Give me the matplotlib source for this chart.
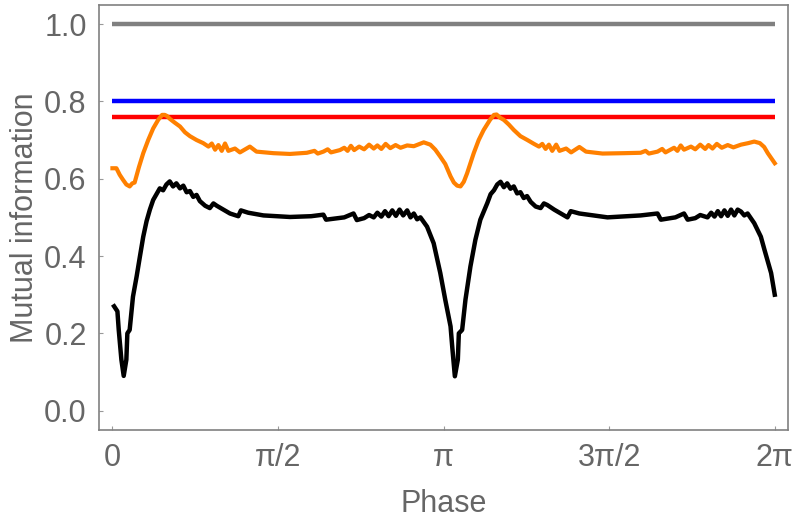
import numpy as np
import matplotlib
matplotlib.use("Agg")
import matplotlib.pyplot as plt

# 相位 (以 π 为单位) 与互信息
black_x = [0.005, 0.015, 0.019, 0.027, 0.034, 0.042, 0.045, 0.052, 0.062, 0.073, 0.083, 0.093, 0.103, 0.113,
           0.123, 0.133, 0.143, 0.153, 0.163, 0.173, 0.183, 0.193, 0.204, 0.214, 0.224, 0.234, 0.244, 0.254,
           0.264, 0.280, 0.294, 0.305, 0.315, 0.335, 0.355, 0.380, 0.388, 0.410, 0.456, 0.536, 0.600, 0.637,
           0.645, 0.700, 0.728, 0.738, 0.760, 0.775, 0.789, 0.800, 0.812, 0.823, 0.834, 0.845, 0.856, 0.867,
           0.878, 0.890, 0.900, 0.910, 0.920, 0.930, 0.950, 0.970, 0.990, 1.005, 1.021, 1.026, 1.034, 1.043,
           1.046, 1.056, 1.066, 1.081, 1.096, 1.111, 1.132, 1.142, 1.152, 1.162, 1.172, 1.182, 1.192, 1.202,
           1.212, 1.222, 1.232, 1.242, 1.252, 1.263, 1.278, 1.293, 1.303, 1.313, 1.334, 1.354, 1.374, 1.384,
           1.410, 1.495, 1.595, 1.646, 1.656, 1.700, 1.726, 1.737, 1.760, 1.775, 1.797, 1.808, 1.818, 1.828,
           1.838, 1.848, 1.858, 1.868, 1.878, 1.888, 1.898, 1.908, 1.918, 1.938, 1.958, 1.969, 1.989, 2.000]
black_y = [0.270, 0.257, 0.209, 0.132, 0.090, 0.132, 0.200, 0.209, 0.295, 0.347, 0.399, 0.450, 0.490, 0.520,
           0.545, 0.560, 0.575, 0.570, 0.585, 0.593, 0.580, 0.588, 0.575, 0.582, 0.565, 0.568, 0.553, 0.558,
           0.542, 0.530, 0.524, 0.536, 0.530, 0.520, 0.510, 0.503, 0.518, 0.512, 0.505, 0.501, 0.503, 0.507,
           0.494, 0.500, 0.510, 0.493, 0.498, 0.506, 0.500, 0.512, 0.502, 0.516, 0.503, 0.518, 0.504, 0.520,
           0.505, 0.518, 0.500, 0.510, 0.495, 0.500, 0.476, 0.433, 0.356, 0.287, 0.218, 0.166, 0.089, 0.132,
           0.200, 0.209, 0.287, 0.373, 0.442, 0.494, 0.537, 0.560, 0.570, 0.585, 0.592, 0.578, 0.588, 0.574,
           0.580, 0.562, 0.565, 0.550, 0.555, 0.540, 0.528, 0.524, 0.536, 0.532, 0.520, 0.510, 0.500, 0.516,
           0.510, 0.500, 0.505, 0.510, 0.494, 0.500, 0.510, 0.494, 0.498, 0.506, 0.500, 0.512, 0.502, 0.516,
           0.503, 0.518, 0.504, 0.520, 0.505, 0.520, 0.515, 0.505, 0.510, 0.485, 0.450, 0.416, 0.356, 0.300]

orange_x = [0.000, 0.012, 0.022, 0.032, 0.042, 0.052, 0.060, 0.067, 0.080, 0.093, 0.108, 0.123, 0.138, 0.150,
            0.158, 0.165, 0.173, 0.188, 0.204, 0.219, 0.234, 0.254, 0.274, 0.290, 0.300, 0.310, 0.320, 0.330,
            0.340, 0.350, 0.370, 0.385, 0.415, 0.435, 0.486, 0.536, 0.587, 0.610, 0.620, 0.637, 0.650, 0.660,
            0.687, 0.700, 0.710, 0.720, 0.730, 0.745, 0.760, 0.775, 0.789, 0.800, 0.812, 0.825, 0.839, 0.855,
            0.870, 0.890, 0.910, 0.940, 0.960, 0.975, 0.990, 1.005, 1.021, 1.031, 1.041, 1.051, 1.061, 1.071,
            1.081, 1.091, 1.106, 1.121, 1.140, 1.152, 1.160, 1.170, 1.182, 1.197, 1.212, 1.232, 1.253, 1.273,
            1.288, 1.298, 1.308, 1.318, 1.328, 1.340, 1.350, 1.370, 1.385, 1.410, 1.430, 1.480, 1.545, 1.595,
            1.610, 1.620, 1.646, 1.660, 1.670, 1.696, 1.706, 1.716, 1.726, 1.747, 1.760, 1.775, 1.790, 1.800,
            1.812, 1.825, 1.840, 1.858, 1.875, 1.898, 1.920, 1.938, 1.955, 1.968, 1.979, 2.000]
orange_y = [0.627, 0.627, 0.610, 0.597, 0.585, 0.580, 0.588, 0.590, 0.630, 0.666, 0.700, 0.730, 0.752, 0.765,
            0.765, 0.762, 0.755, 0.745, 0.735, 0.720, 0.710, 0.700, 0.692, 0.683, 0.691, 0.675, 0.687, 0.672,
            0.691, 0.672, 0.678, 0.668, 0.683, 0.670, 0.666, 0.664, 0.667, 0.672, 0.665, 0.670, 0.676, 0.668,
            0.674, 0.680, 0.672, 0.685, 0.674, 0.683, 0.676, 0.688, 0.678, 0.686, 0.677, 0.690, 0.679, 0.687,
            0.680, 0.686, 0.684, 0.694, 0.688, 0.675, 0.657, 0.638, 0.606, 0.590, 0.582, 0.580, 0.592, 0.614,
            0.640, 0.666, 0.700, 0.726, 0.752, 0.765, 0.766, 0.758, 0.752, 0.740, 0.726, 0.710, 0.700, 0.690,
            0.683, 0.690, 0.677, 0.688, 0.672, 0.688, 0.672, 0.678, 0.668, 0.682, 0.670, 0.665, 0.666, 0.667,
            0.672, 0.665, 0.670, 0.677, 0.668, 0.680, 0.672, 0.686, 0.675, 0.683, 0.676, 0.688, 0.677, 0.687,
            0.678, 0.690, 0.680, 0.687, 0.681, 0.688, 0.692, 0.696, 0.692, 0.682, 0.666, 0.640]

# 水平参考线
level_gray = 1.0
level_blue = 0.80
level_red = 0.76

xticks_pi = [0, 0.5, 1, 1.5, 2]
xtick_labels = ['0', 'π/2', 'π', '3π/2', '2π']
yticks = [0.0, 0.2, 0.4, 0.6, 0.8, 1.0]

plt.rcParams['font.family'] = ['Liberation Sans Narrow', 'Liberation Sans', 'DejaVu Sans']
txt = '#666666'

fig = plt.figure(figsize=(8, 5.2), dpi=100)
ax = fig.add_axes([0.124, 0.173, 0.861, 0.818])

span = [0, 2 * np.pi]
ax.plot(span, [level_gray] * 2, color='#808080', lw=3.2, solid_capstyle='butt')
ax.plot(span, [level_blue] * 2, color='#0000ff', lw=3.2, solid_capstyle='butt')
ax.plot(span, [level_red] * 2, color='#ff0000', lw=3.2, solid_capstyle='butt')
ax.plot(np.array(orange_x) * np.pi, orange_y, color='#ff8000', lw=3.0)
ax.plot(np.array(black_x) * np.pi, black_y, color='black', lw=3.2)

ax.set_xlim(-0.02 * 2 * np.pi, 1.02 * 2 * np.pi)
ax.set_ylim(-0.05, 1.05)
ax.set_xticks(np.array(xticks_pi) * np.pi)
ax.set_xticklabels(xtick_labels)
ax.set_yticks(yticks)
ax.set_yticklabels([f'{v:.1f}' for v in yticks])

for s in ax.spines.values():
    s.set_color('#808080')
    s.set_linewidth(1.2)
ax.tick_params(direction='in', length=3, width=0.8, color='#999999', labelcolor=txt, labelsize=22)
ax.tick_params(axis='x', pad=9)
ax.tick_params(axis='y', pad=9)

ax.set_xlabel('Phase', fontsize=22, color=txt, labelpad=12)
ax.set_ylabel('Mutual information', fontsize=22, color=txt, labelpad=3)

fig.savefig('out.png', dpi=100)
